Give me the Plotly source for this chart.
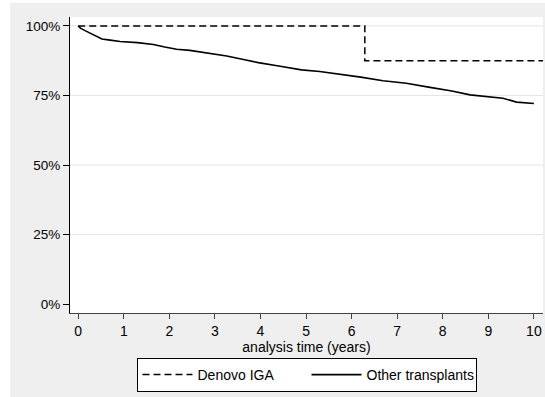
import plotly.graph_objects as go

# Data
denovo_t = [0, 6.29, 10.2]
denovo_s = [100, 87.5, 87.5]

other_t = [0, 0.05, 0.15, 0.26, 0.4, 0.52, 0.7, 0.92, 1.3, 1.65, 1.9, 2.16, 2.45, 2.75,
           3.0, 3.26, 3.6, 3.95, 4.4, 4.9, 5.3, 5.78, 6.2, 6.69, 7.2, 7.72, 8.2, 8.6,
           9.0, 9.32, 9.62, 10.0]
other_s = [100, 99.2, 98.3, 97.4, 96.2, 95.3, 94.9, 94.4, 94.0, 93.3, 92.4, 91.6, 91.2, 90.5,
           89.9, 89.2, 88.0, 86.8, 85.6, 84.2, 83.6, 82.6, 81.6, 80.3, 79.4, 77.9, 76.6, 75.2,
           74.6, 74.0, 72.6, 72.1]

y_ticks = [0, 25, 50, 75, 100]
y_labels = ["0%", "25%", "50%", "75%", "100%"]
grid_vals = [25, 50, 75, 100]
x_ticks = list(range(0, 11))

FONT = "Liberation Sans, Arial, sans-serif"
BG = "#efefef"

fig = go.Figure()
fig.add_trace(go.Scatter(x=denovo_t, y=denovo_s, mode="lines", name="Denovo IGA",
                         line=dict(color="black", width=1.5, dash="7px,4px", shape="hv")))
fig.add_trace(go.Scatter(x=other_t, y=other_s, mode="lines", name="Other transplants",
                         line=dict(color="black", width=1.6)))

for g in grid_vals:
    fig.add_shape(type="line", xref="paper", yref="y", x0=0, x1=1, y0=g, y1=g,
                  line=dict(color="#e4e4e4", width=1), layer="below")

# white strips outside the gray panel
W, H = 545, 397
l, r, t, b = 70, 2, 17, 84
pw, ph = W - l - r, H - t - b
fig.add_shape(type="rect", xref="paper", yref="paper",
              x0=-l / pw, x1=(10 - l) / pw, y0=-b / ph, y1=(H - b) / ph,
              fillcolor="white", line=dict(width=0), layer="below")
fig.add_shape(type="rect", xref="paper", yref="paper",
              x0=-l / pw, x1=(W - l) / pw, y0=(H - b - 3) / ph, y1=(H - b) / ph,
              fillcolor="white", line=dict(width=0), layer="below")

fig.update_layout(
    width=W, height=H,
    margin=dict(l=l, r=r, t=t, b=b),
    paper_bgcolor=BG, plot_bgcolor="white",
    font=dict(family=FONT, size=13, color="black"),
    showlegend=True,
    legend=dict(orientation="h", x=0.5, xanchor="center", y=-0.152, yanchor="top",
                bgcolor="white", bordercolor="black", borderwidth=1,
                font=dict(size=14), entrywidth=104, entrywidthmode="pixels",
                itemwidth=50),
    xaxis=dict(range=[-0.18, 10.2], tickvals=x_ticks, ticks="outside", ticklen=5,
               tickcolor="#444", showline=True, linecolor="#444", linewidth=1,
               showgrid=False, zeroline=False, tickfont=dict(size=14),
               title=dict(text="analysis time (years)", standoff=0, font=dict(size=14))),
    yaxis=dict(range=[-3.2, 103.2], tickvals=y_ticks, ticktext=y_labels, ticks="outside",
               ticklen=6, tickcolor="black", showline=True, linecolor="black", linewidth=1,
               showgrid=False, zeroline=False, tickfont=dict(size=13.5)),
)

fig.write_html("out.html")
